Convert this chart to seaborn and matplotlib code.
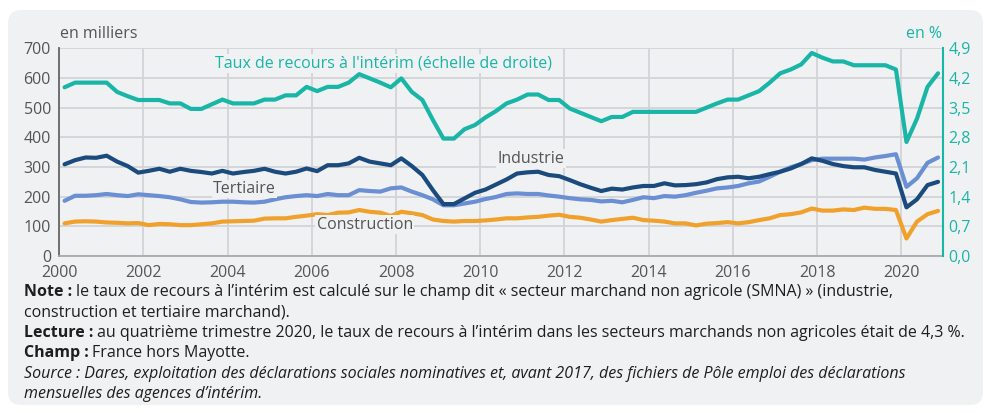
import matplotlib
matplotlib.use("Agg")
import matplotlib.pyplot as plt
import seaborn as sns
import numpy as np
import pandas as pd
from matplotlib.patches import FancyBboxPatch
from matplotlib.transforms import IdentityTransform
from matplotlib.ticker import FuncFormatter
from matplotlib import font_manager as fm

# ---------------- data (quarterly, 2000T1 .. 2020T4) ----------------
quarters = pd.period_range("2000Q1", "2020Q4", freq="Q")

taux_recours = [3.98, 4.09, 4.09, 4.09, 4.09, 3.87, 3.77, 3.68, 3.68, 3.68,
                3.60, 3.60, 3.47, 3.47, 3.58, 3.69, 3.60, 3.60, 3.60, 3.69,
                3.69, 3.79, 3.79, 3.99, 3.89, 3.99, 3.99, 4.09, 4.29, 4.19,
                4.09, 3.98, 4.19, 3.87, 3.68, 3.21, 2.77, 2.77, 2.99, 3.09,
                3.27, 3.42, 3.60, 3.69, 3.81, 3.81, 3.68, 3.68, 3.48, 3.38,
                3.28, 3.18, 3.28, 3.28, 3.40, 3.40, 3.40, 3.40, 3.40, 3.40,
                3.40, 3.50, 3.60, 3.69, 3.69, 3.79, 3.89, 4.09, 4.31, 4.40,
                4.52, 4.79, 4.68, 4.59, 4.59, 4.50, 4.50, 4.50, 4.50, 4.40,
                2.69, 3.24, 3.99, 4.31]

industrie = [309, 323, 332, 331, 338, 318, 303, 281, 287, 294,
             284, 294, 287, 283, 278, 287, 278, 283, 287, 294,
             284, 278, 284, 295, 286, 306, 306, 312, 331, 318,
             312, 306, 329, 303, 273, 222, 175, 175, 194, 213,
             224, 241, 258, 278, 282, 284, 273, 269, 256, 242,
             230, 219, 227, 224, 231, 236, 236, 245, 238, 239,
             242, 248, 259, 265, 267, 262, 267, 276, 284, 295,
             310, 329, 321, 310, 303, 299, 299, 290, 284, 278,
             164, 191, 239, 250]

tertiaire = [186, 203, 203, 205, 209, 205, 202, 208, 205, 202,
             198, 191, 182, 180, 181, 183, 183, 181, 180, 183,
             191, 198, 202, 205, 202, 209, 205, 205, 222, 219,
             217, 228, 231, 217, 205, 191, 171, 171, 177, 183,
             192, 199, 209, 211, 209, 209, 204, 200, 195, 191,
             189, 184, 186, 181, 189, 198, 195, 202, 200, 205,
             213, 220, 228, 231, 236, 245, 251, 267, 284, 299,
             310, 323, 328, 328, 328, 328, 325, 332, 337, 343,
             233, 262, 314, 332]

construction = [110, 116, 117, 116, 113, 112, 110, 111, 104, 108,
                107, 104, 104, 107, 110, 116, 117, 118, 119, 126,
                127, 127, 132, 136, 141, 138, 146, 147, 155, 149,
                146, 135, 149, 144, 138, 123, 118, 116, 118, 118,
                120, 123, 127, 127, 130, 132, 136, 139, 132, 129,
                123, 116, 121, 125, 129, 121, 119, 116, 110, 110,
                103, 109, 111, 114, 110, 114, 121, 127, 138, 141,
                147, 160, 153, 153, 157, 155, 163, 159, 159, 155,
                59, 116, 141, 152]

x_years = list(range(2000, 2021, 2))
left_ticks = list(range(0, 701, 100))
right_ticks = [0.0, 0.7, 1.4, 2.1, 2.8, 3.5, 4.2, 4.9]

# decimal time at mid-quarter
t = [q.year + (q.quarter - 0.5) / 4 for q in quarters]
df = pd.DataFrame({"t": t, "Taux": taux_recours, "Industrie": industrie,
                   "Tertiaire": tertiaire, "Construction": construction})

# ---------------- style ----------------
sns.set_theme(style="white")
plt.rcParams["font.family"] = ["Open Sans", "DejaVu Sans"]

TEAL = "#19b5a6"
NAVY = "#1b4a7c"
LBLUE = "#6a8fd3"
ORANGE = "#f0a12c"
GREY_TXT = "#555555"
PANEL = "#f0f1f3"
GRID = "#d3d4d7"
FS = 11.5

W, H = 984, 413
fig = plt.figure(figsize=(W / 100, H / 100), dpi=100)
fig.patch.set_facecolor("white")
panel = FancyBboxPatch((8, 8), 975, 395, boxstyle="round,pad=0,rounding_size=13",
                       transform=IdentityTransform(), facecolor=PANEL,
                       edgecolor="none", zorder=-10)
fig.patches.append(panel)

x0, x1, ytop, ybot = 59.3, 943.3, 48.3, 256.0
ax = fig.add_axes([x0 / W, 1 - ybot / H, (x1 - x0) / W, (ybot - ytop) / H])
ax.set_facecolor("none")
ax2 = ax.twinx()
ax2.set_facecolor("none")

sns.lineplot(data=df, x="t", y="Tertiaire", ax=ax, color=LBLUE, lw=3.0, zorder=3)
sns.lineplot(data=df, x="t", y="Construction", ax=ax, color=ORANGE, lw=3.0, zorder=3)
sns.lineplot(data=df, x="t", y="Industrie", ax=ax, color=NAVY, lw=3.0, zorder=4)
sns.lineplot(data=df, x="t", y="Taux", ax=ax2, color=TEAL, lw=3.0, zorder=3)

ax.set_xlim(2000, 2021)
ax.set_ylim(0, 700)
ax2.set_ylim(0, 4.9)
ax.set_xticks(x_years)
ax.set_yticks(left_ticks)
ax2.set_yticks(right_ticks)
ax2.yaxis.set_major_formatter(FuncFormatter(lambda v, p: f"{v:.1f}".replace(".", ",")))
ax.set_xlabel("")
ax.set_ylabel("")
ax2.set_ylabel("")
ax.set_axisbelow(True)
ax.grid(True, color=GRID, lw=1.3)
ax2.grid(False)

for s in ["top", "right"]:
    ax.spines[s].set_visible(False)
ax.spines["left"].set_color("#666666")
ax.spines["left"].set_linewidth(1.3)
ax.spines["bottom"].set_color("#a8a9ab")
ax.spines["bottom"].set_linewidth(1.3)
for s in ["top", "left", "bottom"]:
    ax2.spines[s].set_visible(False)
ax2.spines["right"].set_color(TEAL)
ax2.spines["right"].set_linewidth(1.5)

ax.tick_params(axis="y", length=0, labelsize=FS, labelcolor=GREY_TXT, pad=6)
ax.tick_params(axis="x", length=0, labelsize=FS, labelcolor=GREY_TXT, pad=6.5)
ax2.tick_params(axis="y", length=0, labelsize=FS, labelcolor=TEAL, pad=3.5)

box = dict(facecolor=PANEL, edgecolor="none", pad=1.0)
ax.text(2007.69, 650, "Taux de recours à l'intérim (échelle de droite)", color=TEAL,
        fontsize=FS, ha="center", va="center", bbox=box, zorder=5)
ax.text(2011.2, 328, "Industrie", color=GREY_TXT, fontsize=FS, ha="center",
        va="center", bbox=box, zorder=5)
ax.text(2004.4, 226, "Tertiaire", color=GREY_TXT, fontsize=FS, ha="center",
        va="center", bbox=box, zorder=5)
ax.text(2007.26, 106, "Construction", color=GREY_TXT, fontsize=FS, ha="center",
        va="center", bbox=box, zorder=5)

fig.text(60 / W, 1 - 34 / H, "en milliers", color=GREY_TXT, fontsize=FS,
         ha="left", va="center")
fig.text(942 / W, 1 - 34 / H, "en %", color=TEAL, fontsize=FS, ha="right", va="center")

# ---------------- notes ----------------
avail = {f.name for f in fm.fontManager.ttflist}
NOTE_FAMILY = ["Liberation Sans Narrow"] if "Liberation Sans Narrow" in avail else ["Open Sans"]
NOTE_COLOR = "#1e1e1e"

notes = [
    [("Note :", "bold", "normal"),
     ("le taux de recours à l’intérim est calculé sur le champ dit « secteur marchand non agricole (SMNA) » (industrie,", "normal", "normal")],
    [("construction et tertiaire marchand).", "normal", "normal")],
    [("Lecture :", "bold", "normal"),
     ("au quatrième trimestre 2020, le taux de recours à l’intérim dans les secteurs marchands non agricoles était de 4,3 %.", "normal", "normal")],
    [("Champ :", "bold", "normal"), ("France hors Mayotte.", "normal", "normal")],
    [("Source : Dares, exploitation des déclarations sociales nominatives et, avant 2017, des fichiers de Pôle emploi des déclarations", "normal", "italic")],
    [("mensuelles des agences d’intérim.", "normal", "italic")],
]

renderer = fig.canvas.get_renderer()


def draw_line(parts, y_px, size):
    x = 24.0
    objs = []
    for i, (s, w, st) in enumerate(parts):
        if i > 0:
            x += size * 0.32
        tt = fig.text(x, H - y_px, s, transform=IdentityTransform(), fontsize=size,
                      fontweight=w, fontstyle=st, family=NOTE_FAMILY,
                      color=NOTE_COLOR, ha="left", va="center")
        bb = tt.get_window_extent(renderer=renderer)
        x = bb.x1
        objs.append(tt)
    return objs, x


tmp, xend = draw_line(notes[2], 332, 10)
for o in tmp:
    o.remove()
note_size = 10 * (965 - 24) / (xend - 24)

for i, parts in enumerate(notes):
    draw_line(parts, 292 + i * 20.4, note_size)

fig.savefig("out.png", dpi=100, facecolor="white")
